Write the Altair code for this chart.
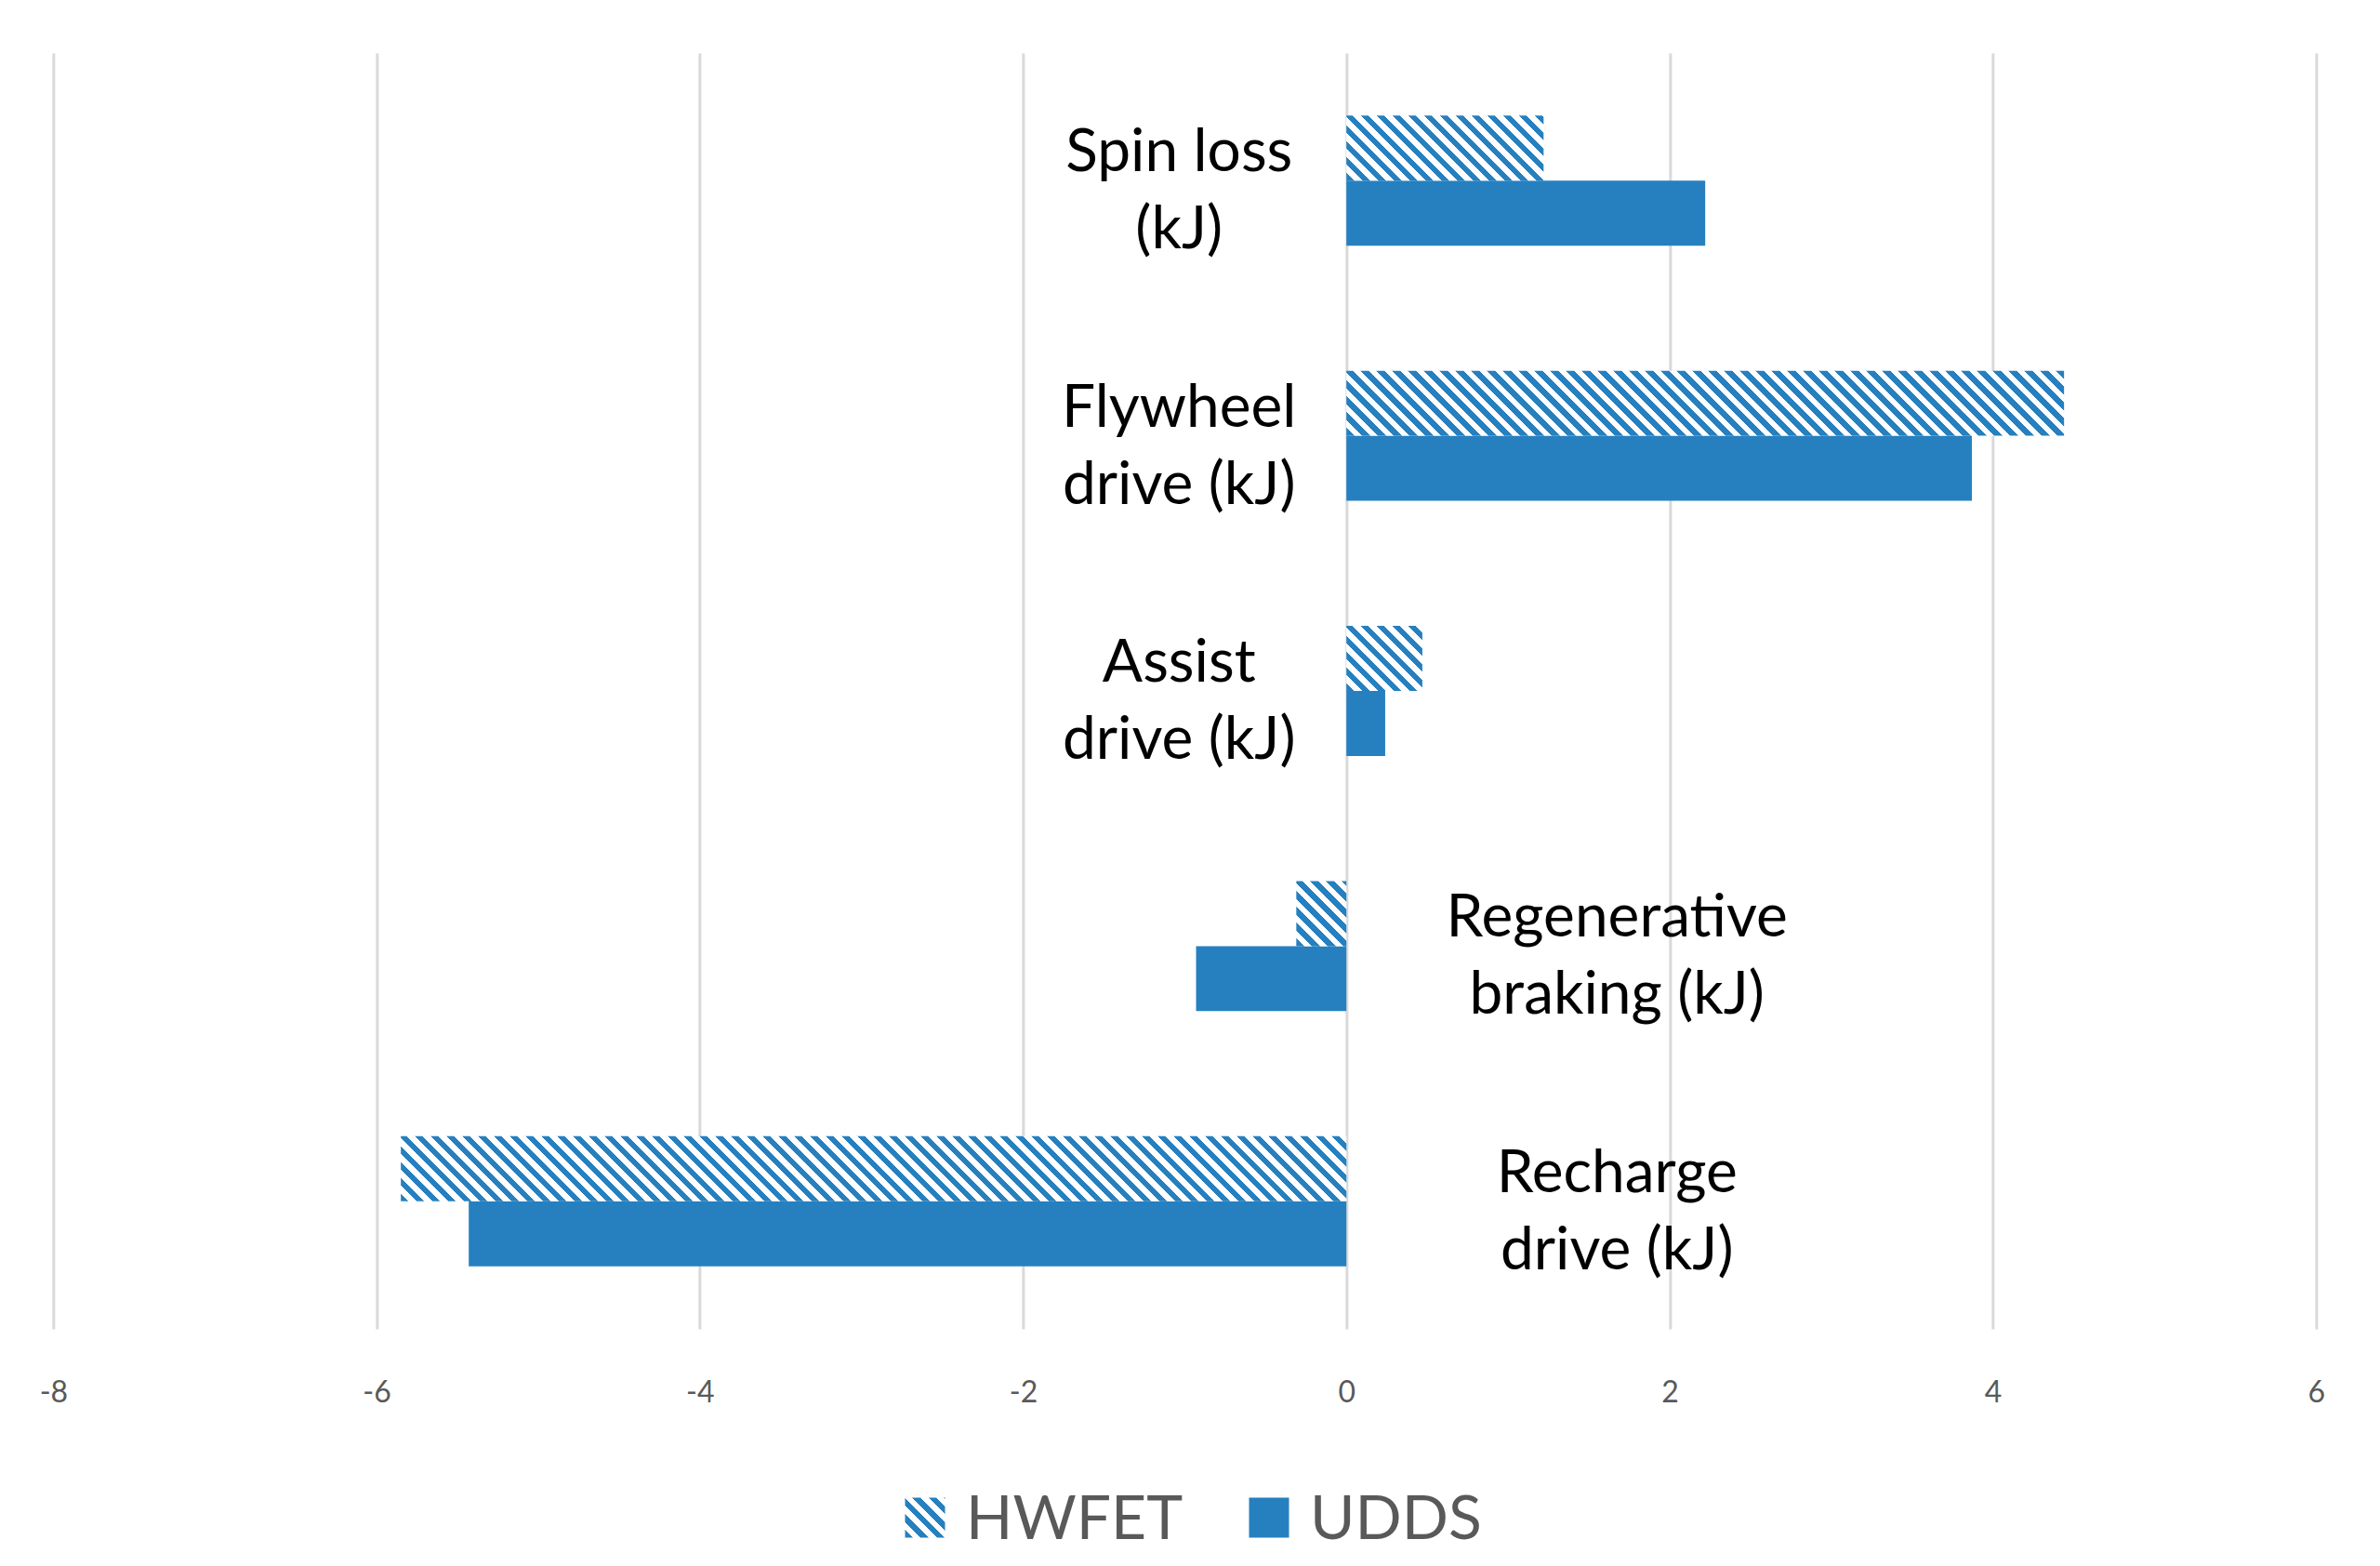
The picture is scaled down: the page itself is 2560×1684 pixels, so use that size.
import altair as alt
import pandas as pd

# ---------------- data ----------------
cat_keys = ["Spin loss", "Flywheel drive", "Assist drive", "Regenerative braking", "Recharge drive"]
cat_labels = ["Spin loss\n(kJ)", "Flywheel\ndrive (kJ)", "Assist\ndrive (kJ)",
              "Regenerative\nbraking (kJ)", "Recharge\ndrive (kJ)"]
series = ["HWFET", "UDDS"]
hwfet = [1.22, 4.44, 0.47, -0.31, -5.85]
udds = [2.22, 3.87, 0.24, -0.93, -5.43]
x_ticks = [-8, -6, -4, -2, 0, 2, 4, 6]

# ---------------- style ----------------
BLUE = "#2680BF"
FONT = "Lato"
PLOT_W, PLOT_H = 2434, 1372
X_MIN, X_MAX = -8, 6
PAD_INNER, PAD_OUTER = 0.49, 0.245
HATCH_PERIOD = 17  # px along x


def hatch(w, h, period=HATCH_PERIOD, c1=BLUE, c2="#ffffff"):
    """Diagonal '\\' stripes as a hard-stop linear gradient for a w x h box."""
    s = w * w + h * h
    x2 = w * (w + h) / s
    y2 = 1 - h * (w + h) / s
    n = (w + h) / period
    stops = []
    i = 0
    while True:
        o0 = i / (2 * n)
        o1 = min((i + 1) / (2 * n), 1.0)
        col = c1 if i % 2 == 0 else c2
        stops.append({"offset": round(o0, 5), "color": col})
        stops.append({"offset": round(o1, 5), "color": col})
        if o1 >= 1.0:
            break
        i += 1
    return {"gradient": "linear", "x1": 0, "y1": 1, "x2": round(x2, 5), "y2": round(y2, 5), "stops": stops}


px_per_unit = PLOT_W / (X_MAX - X_MIN)
step = PLOT_H / len(cat_keys)
bar_h = step * (1 - PAD_INNER) / 2

xscale = alt.Scale(domain=[X_MIN, X_MAX], nice=False, zero=False)
yscale = alt.Scale(domain=cat_keys, paddingInner=PAD_INNER, paddingOuter=PAD_OUTER)
yoff_scale = alt.Scale(domain=series, paddingInner=0, paddingOuter=0)
x_axis = alt.Axis(values=x_ticks, title=None, labelExpr="'' + datum.value", labelFlush=False)


def xenc():
    return alt.X("value:Q", scale=xscale, axis=x_axis)


def yenc():
    return alt.Y("cat:N", scale=yscale, axis=None, sort=cat_keys)


def yoffenc():
    return alt.YOffset("series:N", scale=yoff_scale)


# UDDS solid bars
df_udds = pd.DataFrame({"cat": cat_keys, "series": "UDDS", "value": udds})
layers = [
    alt.Chart(df_udds).mark_bar().encode(
        x=xenc(), y=yenc(), yOffset=yoffenc(), color=alt.value(BLUE)
    )
]

# HWFET hatched bars (one layer each, gradient sized to the bar)
for c, v in zip(cat_keys, hwfet):
    d = pd.DataFrame({"cat": [c], "series": ["HWFET"], "value": [v]})
    layers.append(
        alt.Chart(d).mark_bar().encode(
            x=xenc(), y=yenc(), yOffset=yoffenc(),
            color=alt.value(hatch(abs(v) * px_per_unit, bar_h))
        )
    )

# Category labels
sign = [1 if max(a, b) > 0 else -1 for a, b in zip(hwfet, udds)]
df_lab = pd.DataFrame({"cat": cat_keys, "label": cat_labels, "sign": sign})
for sg, dx in [(1, -180), (-1, 291)]:
    layers.append(
        alt.Chart(df_lab[df_lab["sign"] == sg]).mark_text(
            align="center", baseline="middle", lineBreak="\n", font=FONT,
            fontSize=64, lineHeight=83, color="#000000", dx=dx, dy=-29
        ).encode(x=alt.datum(0, scale=xscale), y=yenc(), text="label:N")
    )

main = alt.layer(*layers).properties(width=PLOT_W, height=PLOT_H)

# Custom legend
leg_x = alt.X("series:N", scale=alt.Scale(domain=series, paddingInner=0, paddingOuter=0),
              axis=None, bandPosition=0)
SYM = 43
SHIFT = -99
leg_df = pd.DataFrame({"series": series})
leg_h = alt.Chart(leg_df[leg_df["series"] == "HWFET"]).mark_square(
    size=SYM * SYM, opacity=1, filled=True, strokeWidth=0, xOffset=SHIFT
).encode(x=leg_x, color=alt.value(hatch(SYM, SYM)))
leg_u = alt.Chart(leg_df[leg_df["series"] == "UDDS"]).mark_square(
    size=SYM * SYM, opacity=1, filled=True, strokeWidth=0, xOffset=SHIFT
).encode(x=leg_x, color=alt.value(BLUE))
leg_t = alt.Chart(leg_df).mark_text(
    align="left", baseline="middle", dx=44 + SHIFT, dy=3, font=FONT, fontSize=66, color="#595959"
).encode(x=leg_x, text="series:N")
legend = alt.layer(leg_h, leg_u, leg_t).properties(width=740, height=70)

chart = alt.vconcat(main, legend, spacing=84, center=True).properties(
    padding={"left": 34, "top": 49, "right": 10, "bottom": 10}
).configure_view(stroke=None).configure_axisX(
    grid=True, gridColor="#d9d9d9", gridWidth=3, domain=False, ticks=False, tickSize=0,
    labelFont=FONT, labelFontSize=32, labelColor="#595959", labelPadding=53
)

chart.save("out.html", embed_options={"renderer": "svg", "actions": False})
